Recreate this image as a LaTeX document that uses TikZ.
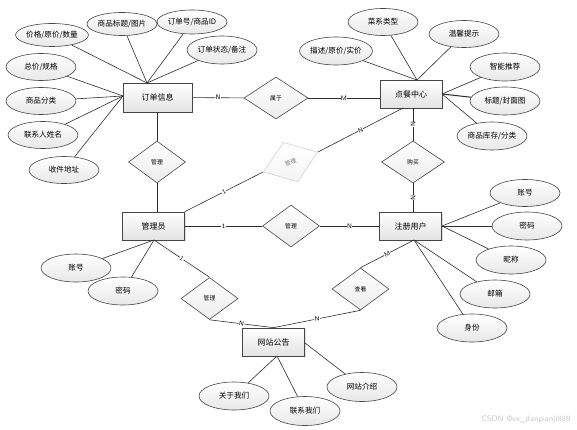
\documentclass[tikz,border=0pt]{standalone}
\usepackage{fontspec}
\newfontfamily\cjk{Noto Sans CJK SC}
\usetikzlibrary{shapes.geometric,shadows}
\tikzset{
  ent/.style={rectangle, draw=gray!55!black, line width=0.7pt, top color=white, bottom color=gray!22,
    minimum width=62, minimum height=28, inner sep=1pt, font=\cjk\fontsize{8}{9}\selectfont,
    drop shadow={shadow xshift=1pt, shadow yshift=-1pt, opacity=0.25}},
  attr/.style={ellipse, draw=gray!55!black, line width=0.6pt, top color=white, bottom color=gray!18,
    minimum width=70, minimum height=27, inner sep=0pt, font=\cjk\fontsize{7.6}{8}\selectfont},
  rel/.style={diamond, draw=gray!55!black, line width=0.6pt, top color=white, bottom color=gray!15,
    minimum width=57, minimum height=42, inner sep=0pt, font=\cjk\fontsize{5.8}{6}\selectfont},
  conn/.style={draw=gray!35!black, line width=0.6pt},
  card/.style={fill=white, inner sep=0.4pt, sloped, font=\sffamily\fontsize{6.5}{6.5}\selectfont}
}
\begin{document}
\begin{tikzpicture}[x=1pt,y=-1pt]
\useasboundingbox (0,0) rectangle (577,430);

% entities
\node[ent, minimum width=69, minimum height=29] (dd) at (157.5,97.5) {订单信息};
\node[ent] (dc) at (411,94) {点餐中心};
\node[ent] (gly) at (153.5,226) {管理员};
\node[ent] (zc) at (410.5,226) {注册用户};
\node[ent] (wz) at (273.5,342) {网站公告};

% relations
\node[rel, minimum width=64] (r1) at (276,98) {属于};
\node[rel] (r2) at (157,162) {管理};
\node[rel, minimum width=63] (r3) at (413,162) {购买};
\node[rel, rotate=20, draw=gray!35, top color=white, bottom color=gray!8, text=gray, minimum width=58] (r4) at (290.5,162) {管理};
\node[rel] (r5) at (291,226) {管理};
\node[rel] (r6) at (209.5,298.5) {管理};
\node[rel] (r7) at (360.5,289) {查看};

% attribute hubs
\coordinate (ddt) at (147,83);
\coordinate (ddl) at (123,96);
\coordinate (dct) at (417,80);
\coordinate (dcr) at (442,94);
\coordinate (zcr) at (442,226);
\coordinate (zcb) at (414,240);
\coordinate (glb) at (154,240);
\coordinate (wzb) at (277,356);
\coordinate (wzr) at (305,343);
\coordinate (dcs) at (403,108);

% 订单信息 attributes
\node[attr, minimum height=23] (a1) at (52,35) {价格/原价/数量};
\node[attr, minimum height=23] (a2) at (122,24) {商品标题/图片};
\node[attr, minimum height=24] (a3) at (192,22) {订单号/商品ID};
\node[attr, minimum height=28] (a4) at (222,50) {订单状态/备注};
\node[attr] (a5) at (41,67) {总价/规格};
\node[attr] (a6) at (41,101) {商品分类};
\node[attr] (a7) at (43,135) {联系人姓名};
\node[attr] (a8) at (64,170) {收件地址};
\foreach \a in {a1,a2,a3,a4} \draw[conn] (\a) -- (ddt);
\foreach \a in {a5,a6,a7,a8} \draw[conn] (\a) -- (ddl);

% 点餐中心 attributes
\node[attr, minimum width=72, minimum height=28] (b1) at (336,51) {描述/原价/实价};
\node[attr] (b2) at (383,22) {菜系类型};
\node[attr] (b3) at (464,34) {温馨提示};
\node[attr, minimum height=28] (b4) at (505,67) {智能推荐};
\node[attr, minimum height=28] (b5) at (505,101) {标题/封面图};
\node[attr, minimum height=28] (b6) at (492,136) {商品库存/分类};
\foreach \a in {b1,b2,b3} \draw[conn] (\a) -- (dct);
\foreach \a in {b4,b6} \draw[conn] (\a) -- (dcr);
\draw[conn, line width=1pt] (b5) -- (dcr);

% 注册用户 attributes
\node[attr] (c1) at (525,193) {账号};
\node[attr, minimum height=28] (c2) at (527,226) {密码};
\node[attr, minimum height=28] (c3) at (511,260) {昵称};
\node[attr, minimum height=28] (c4) at (495,294) {邮箱};
\node[attr, minimum height=28] (c5) at (472,328) {身份};
\foreach \a in {c1,c3} \draw[conn] (\a) -- (zcr);
\draw[conn, line width=1pt] (c2) -- (zcr);
\foreach \a in {c4,c5} \draw[conn] (\a) -- (zcb);

% 管理员 attributes
\node[attr, minimum height=28] (d1) at (76,268) {账号};
\node[attr, minimum height=28] (d2) at (123,291) {密码};
\foreach \a in {d1,d2} \draw[conn] (\a) -- (glb);

% 网站公告 attributes
\node[attr, minimum height=28] (e1) at (234,396) {关于我们};
\node[attr, minimum height=29] (e2) at (305,411) {联系我们};
\node[attr, minimum height=29] (e3) at (362,387) {网站介绍};
\foreach \a in {e1,e2} \draw[conn] (\a) -- (wzb);
\draw[conn] (e3) -- (wzr);

% relationships
\draw[conn] (dd) -- node[card]{N} (r1);
\draw[conn] (r1.east) -- node[card]{M} (r1.east -| dc.west);
\draw[conn] (r2.north) -- (r2.north |- dd.south);
\draw[conn] (r2.south) -- (r2.south |- gly.north);
\draw[conn] (r3.north) -- node[card]{N} (r3.north |- dc.south);
\draw[conn] (r3.south) -- node[card]{N} (r3.south |- zc.north);
\draw[conn] (gly.north east) -- node[card]{1} (r4.west);
\draw[conn] (r4.east) -- node[card]{N} (dcs);
\draw[conn, line width=1pt] (gly.east) -- node[card]{1} (r5.west);
\draw[conn, line width=1pt] (r5.east) -- node[card]{N} (zc.west);
\draw[conn] (glb) -- node[card]{1} (r6.north);
\draw[conn] (r6.south) -- node[card]{N} (wz.north);
\draw[conn] (zcb) -- node[card]{M} (r7.north);
\draw[conn] (r7.south) -- node[card]{N} (wz.north);

% watermark
\node[anchor=east, text=gray!45, font=\sffamily\fontsize{8}{8}\selectfont] (wm) at (574,419) {CSDN @vx\_danpianji889};
\end{tikzpicture}
\end{document}
